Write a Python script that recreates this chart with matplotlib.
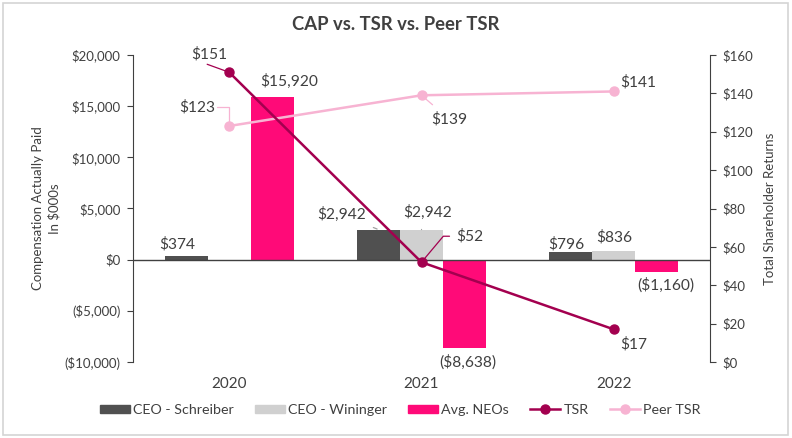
import matplotlib
matplotlib.use("Agg")
import matplotlib.pyplot as plt
import numpy as np
from matplotlib.patches import Rectangle
from matplotlib.lines import Line2D
from matplotlib.ticker import FuncFormatter

plt.rcParams['font.family'] = ['Lato', 'DejaVu Sans']

years = ["2020", "2021", "2022"]
ceo_schreiber = [374, 2942, 796]
ceo_wininger = [np.nan, 2942, 836]
avg_neos = [15920, -8638, -1160]
tsr = [151, 52, 17]
peer_tsr = [123, 139, 141]

C_DARK = "#505050"
C_LIGHT = "#d0d0d0"
C_PINK = "#ff0a78"
C_TSR = "#a3004f"
C_PEER = "#f7b3d2"
TXT = "#404040"

def money(v, pos=None):
    v = int(round(v))
    if v < 0:
        return "(${:,})".format(-v)
    return "${:,}".format(v)

fig = plt.figure(figsize=(7.92, 4.38), dpi=100)
fig.patch.set_facecolor("white")

# chart border
fig.add_artist(Rectangle((3/792, 1-435/438), 785/792, 432/438, transform=fig.transFigure,
                         fill=False, edgecolor="#d4d4d4", lw=1.2))

ax = fig.add_axes([133/792, 1-362/438, 577/792, 307/438])
ax2 = ax.twinx()

x = np.arange(len(years))
w = 0.224
ax.bar(x - w, ceo_schreiber, w, color=C_DARK, label="CEO - Schreiber", zorder=2)
ax.bar(x, ceo_wininger, w, color=C_LIGHT, label="CEO - Wininger", zorder=2)
ax.bar(x + w, avg_neos, w, color=C_PINK, label="Avg. NEOs", zorder=2)
ax.axhline(0, color="#404040", lw=1.0, zorder=3)

ax.set_xlim(-0.5, 2.5)
ax.set_ylim(-10000, 20000)
ax.set_yticks(np.arange(-10000, 20001, 5000))
ax.yaxis.set_major_formatter(FuncFormatter(money))
ax.set_xticks(x)
ax.set_xticklabels(years, fontsize=11, color=TXT)
ax.tick_params(axis='x', length=0, pad=11)
ax.tick_params(axis='y', length=4, color="#404040", labelsize=9.5, labelcolor=TXT, pad=5)
for s in ["top", "right", "bottom"]:
    ax.spines[s].set_visible(False)
ax.spines["left"].set_color("#404040")

ax2.plot(x, tsr, color=C_TSR, lw=1.8, marker='o', ms=6.5, label="TSR", zorder=5)
ax2.plot(x, peer_tsr, color=C_PEER, lw=1.8, marker='o', ms=6.5, label="Peer TSR", zorder=4)
ax2.set_ylim(0, 160)
ax2.set_yticks(np.arange(0, 161, 20))
ax2.yaxis.set_major_formatter(FuncFormatter(lambda v, p: "${:d}".format(int(v))))
ax2.tick_params(axis='y', length=4, color="#404040", labelsize=9.5, labelcolor=TXT, pad=5)
for s in ["top", "left", "bottom"]:
    ax2.spines[s].set_visible(False)
ax2.spines["right"].set_color("#404040")

ax.set_ylabel("Compensation Actually Paid\nIn $000s", fontsize=9.5, color=TXT, labelpad=3, linespacing=1.35)
ax2.set_ylabel("Total Shareholder Returns", fontsize=9.5, color=TXT, labelpad=8)

fig.text(0.5, 1-25/438, "CAP vs. TSR vs. Peer TSR", ha="center", va="center",
         fontsize=13.3, fontweight="bold", color=TXT)

LS = 11.2
def lab(axis, xy, text, off, lc=None, ha="center"):
    kw = dict(xy=xy, xytext=off, textcoords="offset pixels", ha=ha, va="center",
              fontsize=LS, color=TXT, zorder=10)
    if lc is not None:
        kw["arrowprops"] = dict(arrowstyle="-", color=lc, lw=0.9, shrinkA=5, shrinkB=1)
    axis.annotate(text, **kw)

# bar labels
lab(ax, (x[0] - w, ceo_schreiber[0]), money(ceo_schreiber[0]), (-9, 12))
lab(ax, (x[0] + w, avg_neos[0]), money(avg_neos[0]), (17, 15))
lab(ax, (x[1] - w, ceo_schreiber[1]), money(ceo_schreiber[1]), (-37, 15), lc="#a0a0a0")
lab(ax, (x[1], ceo_wininger[1]), money(ceo_wininger[1]), (6, 17), lc="#a0a0a0")
lab(ax, (x[1] + w, avg_neos[1]), money(avg_neos[1]), (3, -14))
lab(ax, (x[2] - w, ceo_schreiber[2]), money(ceo_schreiber[2]), (-4, 7))
lab(ax, (x[2], ceo_wininger[2]), money(ceo_wininger[2]), (0, 14))
lab(ax, (x[2] + w, avg_neos[2]), money(avg_neos[2]), (9, -14))

# line labels
lab(ax2, (x[0], tsr[0]), "$151", (-20, 18))
ax2.annotate("", xy=(x[0], tsr[0]), xytext=(-22, 8), textcoords="offset pixels",
             arrowprops=dict(arrowstyle="-", color=C_TSR, lw=0.9, shrinkA=0, shrinkB=3))
lab(ax2, (x[0], peer_tsr[0]), "$123", (-32, 19))
ax2.annotate("", xy=(x[0], peer_tsr[0]), xytext=(-12, 19), textcoords="offset pixels",
             arrowprops=dict(arrowstyle="-", color=C_PEER, lw=0.9, shrinkA=0, shrinkB=3,
                             connectionstyle="angle,angleA=0,angleB=90,rad=0"))
lab(ax2, (x[1], tsr[1]), "$52", (48, 26))
ax2.annotate("", xy=(x[1], tsr[1]), xytext=(28, 26), textcoords="offset pixels",
             arrowprops=dict(arrowstyle="-", color=C_TSR, lw=0.9, shrinkA=0, shrinkB=3,
                             connectionstyle="angle,angleA=0,angleB=50,rad=0"))
lab(ax2, (x[1], peer_tsr[1]), "$139", (28, -24), lc=C_PEER)
lab(ax2, (x[2], peer_tsr[2]), "$141", (24, 9))
lab(ax2, (x[2], tsr[2]), "$17", (20, -15))

# legend
handles = [
    Rectangle((0, 0), 1, 1, color=C_DARK),
    Rectangle((0, 0), 1, 1, color=C_LIGHT),
    Rectangle((0, 0), 1, 1, color=C_PINK),
    Line2D([], [], color=C_TSR, lw=1.8, marker='o', ms=6.5),
    Line2D([], [], color=C_PEER, lw=1.8, marker='o', ms=6.5),
]
labels = ["CEO - Schreiber", "CEO - Wininger", "Avg. NEOs", "TSR", "Peer TSR"]
fig.legend(handles, labels, loc="center", bbox_to_anchor=(400/792, 1-410/438), ncol=5,
           frameon=False, fontsize=10.3, handlelength=2.1, handleheight=0.5,
           handletextpad=0.2, columnspacing=1.5, labelcolor=TXT)

fig.savefig("out.png", dpi=100, facecolor="white")
